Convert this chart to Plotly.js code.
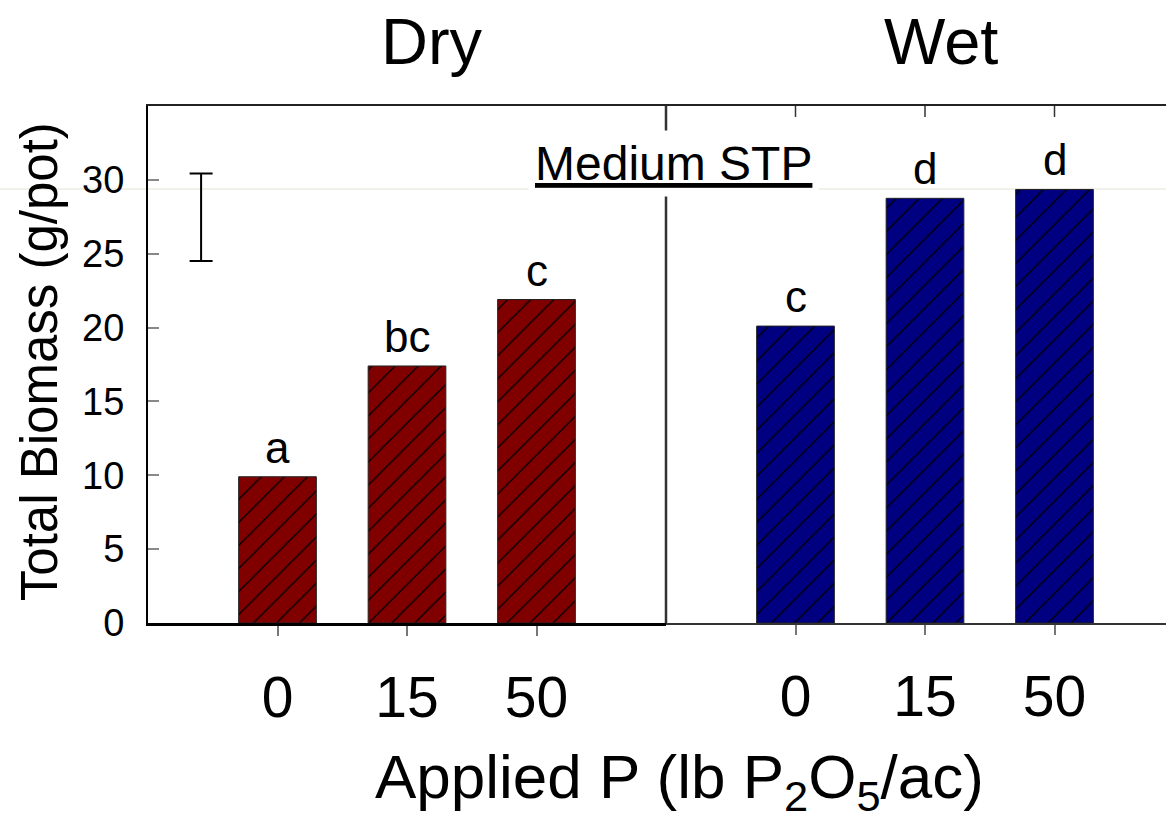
<!DOCTYPE html>
<html>
<head>
<meta charset="utf-8">
<script src="https://cdn.plot.ly/plotly-3.0.1.min.js"></script>
<style>
html, body { margin: 0; padding: 0; overflow: hidden; background: #fff; }
#chart { width: 1200px; height: 815px; }
</style>
</head>
<body>
<div id="chart"></div>
<script>
// ---- data ----
var categories = ['0', '15', '50'];
var dryValues = [9.9, 17.4, 21.9];
var wetValues = [20.1, 28.75, 29.35];
var dryLetters = ['a', 'bc', 'c'];
var wetLetters = ['c', 'd', 'd'];
var yTickValues = [0, 5, 10, 15, 20, 25, 30];
var yMax = 35;
var lsdCenter = [27.47];
var lsdHalf = [2.96];
var lsdPosition = [-0.59];
var panelTitles = ['Dry', 'Wet'];
var dryColor = '#800000';
var wetColor = '#000080';

var FONT = 'Liberation Sans, Arial, sans-serif';
var pos = categories.map(function (c, i) { return i; });

function barTrace(vals, color, xa) {
  return {
    type: 'bar', x: pos, y: vals, xaxis: xa, yaxis: 'y', width: 0.6,
    marker: {
      color: color,
      line: { color: '#222', width: 1 },
      pattern: { shape: '/', fgcolor: '#000', bgcolor: color, fillmode: 'replace', size: 16.3, solidity: 0.08 }
    },
    hoverinfo: 'skip', showlegend: false
  };
}
function helper(xa) {
  return { type: 'scatter', mode: 'markers', x: pos, y: pos.map(function () { return null; }), xaxis: xa, yaxis: 'y',
    marker: { size: 1, color: 'rgba(0,0,0,0)' }, showlegend: false, hoverinfo: 'skip' };
}

var traces = [
  barTrace(dryValues, dryColor, 'x'),
  barTrace(wetValues, wetColor, 'x2'),
  {
    type: 'scatter', mode: 'markers', x: lsdPosition, y: lsdCenter, xaxis: 'x', yaxis: 'y',
    marker: { size: 1, color: 'rgba(0,0,0,0)' },
    error_y: { type: 'data', array: lsdHalf, visible: true, color: '#000', thickness: 2, width: 11.5 },
    showlegend: false, hoverinfo: 'skip'
  },
  helper('x3'), helper('x4')
];

var annotations = [];
dryValues.forEach(function (v, i) {
  annotations.push({ xref: 'x', yref: 'y', x: i, y: v, text: dryLetters[i], showarrow: false,
    yanchor: 'bottom', yshift: 3, font: { family: FONT, size: 44, color: '#000' } });
});
wetValues.forEach(function (v, i) {
  annotations.push({ xref: 'x2', yref: 'y', x: i, y: v, text: wetLetters[i], showarrow: false,
    yanchor: 'bottom', yshift: 3, font: { family: FONT, size: 44, color: '#000' } });
});
annotations.push({ xref: 'paper', yref: 'paper', x: 0.274, y: 1.124, text: panelTitles[0], showarrow: false,
  xanchor: 'center', yanchor: 'middle', font: { family: FONT, size: 65, color: '#000' } });
annotations.push({ xref: 'paper', yref: 'paper', x: 0.765, y: 1.124, text: panelTitles[1], showarrow: false,
  xanchor: 'center', yanchor: 'middle', font: { family: FONT, size: 65, color: '#000' } });
annotations.push({ xref: 'paper', yref: 'paper', x: 0.507, y: 0.888, text: '<u>Medium STP</u>', showarrow: false,
  xanchor: 'center', yanchor: 'middle', bgcolor: '#fff', borderpad: 6,
  font: { family: FONT, size: 48, color: '#000' } });
annotations.push({ xref: 'paper', yref: 'paper', x: -0.104, y: 0.505, text: 'Total Biomass (g/pot)', showarrow: false,
  textangle: -90, xanchor: 'center', yanchor: 'middle', font: { family: FONT, size: 51, color: '#000' } });
annotations.push({ xref: 'paper', yref: 'paper', x: 0.513, y: -0.306, text: 'Applied P (lb P<sub>2</sub>O<sub>5</sub>/ac)', showarrow: false,
  xanchor: 'center', yanchor: 'middle', font: { family: FONT, size: 62, color: '#000' } });

var xCommon = {
  range: [-1, 3], tickmode: 'array', tickvals: pos, ticktext: categories,
  ticks: 'outside', ticklen: 10, tickwidth: 2, tickcolor: '#777',
  showgrid: false, zeroline: false, showline: true,
  tickfont: { family: FONT, size: 57, color: '#000' }, ticklabelstandoff: 13,
  fixedrange: true
};
var plain = { range: [-1, 3], showgrid: false, zeroline: false, showticklabels: false, fixedrange: true };

var shapes = [
  { type: 'line', xref: 'paper', yref: 'y', x0: 0.5, x1: 0.5, y0: 0, y1: yMax, layer: 'below',
    line: { color: '#333', width: 2.5 } },
  { type: 'line', xref: 'paper', yref: 'y', x0: -0.2, x1: 1.2, y0: 29.38, y1: 29.38, layer: 'below',
    line: { color: '#ecebe2', width: 1.5 } }
];
// inward tick marks hanging from the top border of the right panel, at each category
pos.forEach(function (p) {
  shapes.push({ type: 'line', xref: 'x2', yref: 'y domain', x0: p, x1: p, y0: 1, y1: 1 - 11 / 517,
    layer: 'above', line: { color: '#333', width: 1.5 } });
});

var layout = {
  width: 1200, height: 815,
  margin: { l: 148, r: 16, t: 106, b: 192 },
  paper_bgcolor: '#fff', plot_bgcolor: '#fff',
  bargap: 0,
  xaxis: Object.assign({}, xCommon, { domain: [0, 0.5], anchor: 'y', linecolor: '#000', linewidth: 3 }),
  xaxis2: Object.assign({}, xCommon, { domain: [0.5, 1], anchor: 'y', linecolor: '#333', linewidth: 2 }),
  xaxis3: Object.assign({}, plain, { overlaying: 'x2', side: 'top', anchor: 'y', ticks: '',
    showline: true, linecolor: '#222', linewidth: 2 }),
  xaxis4: Object.assign({}, plain, { overlaying: 'x', side: 'top', anchor: 'y', ticks: '',
    showline: true, linecolor: '#222', linewidth: 2 }),
  yaxis: {
    range: [0, yMax], tickmode: 'array', tickvals: yTickValues,
    ticks: 'inside', ticklen: 11, tickwidth: 2, tickcolor: '#888',
    showgrid: false, zeroline: false, showline: true, linecolor: '#000', linewidth: 2,
    tickfont: { family: FONT, size: 38, color: '#000' }, ticklabelstandoff: 14, fixedrange: true
  },
  shapes: shapes,
  annotations: annotations,
  showlegend: false
};

Plotly.newPlot('chart', traces, layout, { displayModeBar: false, staticPlot: true });
</script>
</body>
</html>
